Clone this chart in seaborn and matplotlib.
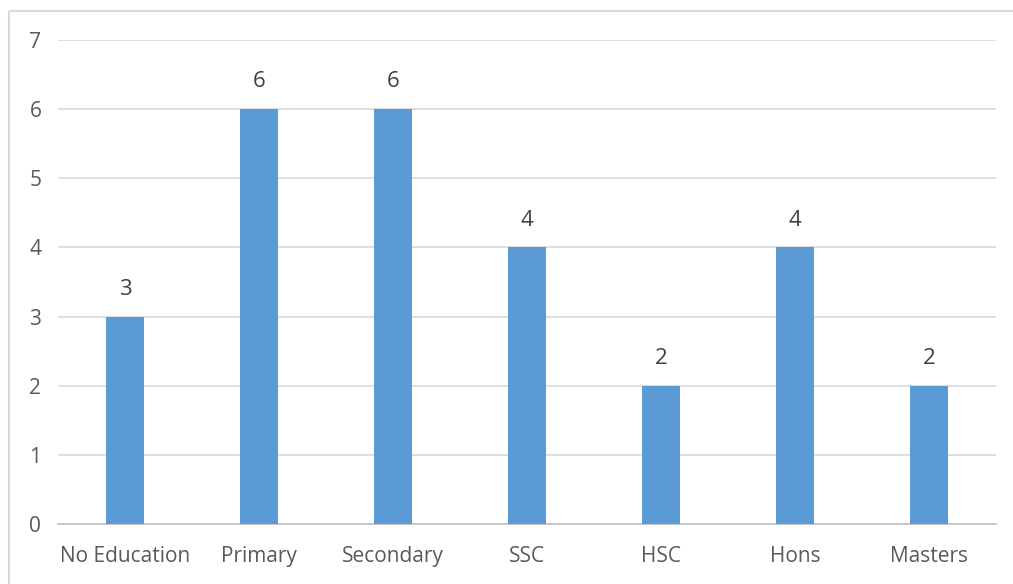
import matplotlib
matplotlib.use("Agg")
import matplotlib.pyplot as plt
import seaborn as sns
import pandas as pd
from matplotlib.lines import Line2D

categories = ["No Education", "Primary", "Secondary", "SSC", "HSC", "Hons", "Masters"]
counts = [3, 6, 6, 4, 2, 4, 2]
y_ticks = [0, 1, 2, 3, 4, 5, 6, 7]

df = pd.DataFrame({"level": categories, "count": counts})

sns.set_theme(style="white")
plt.rcParams["font.family"] = ["Open Sans", "DejaVu Sans"]

fig = plt.figure(figsize=(10.13, 5.84), dpi=100)
fig.patch.set_linewidth(0)
ax = fig.add_axes([58 / 1013, 60 / 584, 938 / 1013, 484 / 584])

sns.barplot(data=df, x="level", y="count", color="#5B9BD5", saturation=1,
            width=0.285, linewidth=0, ax=ax, zorder=3)

ax.set_xlim(-0.5, len(categories) - 0.5)
ax.set_ylim(0, 7)
ax.set_yticks(y_ticks)
ax.yaxis.grid(True, color="#D9D9D9", linewidth=1.2, zorder=0)
ax.xaxis.grid(False)
for side in ["top", "right", "left"]:
    ax.spines[side].set_visible(False)
ax.spines["bottom"].set_color("#BFBFBF")
ax.spines["bottom"].set_linewidth(1.2)
ax.tick_params(axis="both", length=0, labelsize=15, colors="#595959")
ax.tick_params(axis="x", pad=16)
ax.tick_params(axis="y", pad=12)
ax.set_xlabel("")
ax.set_ylabel("")

for container in ax.containers:
    ax.bar_label(container, labels=[str(v) for v in counts], padding=12,
                 fontsize=16, color="#404040")

# chart-area frame: left and top edges only
x0, y0 = 9 / 1013, 1 - 11 / 584
fig.lines.append(Line2D([x0, x0], [0, y0], transform=fig.transFigure,
                        color="#D9D9D9", linewidth=1.5, solid_capstyle="butt"))
fig.lines.append(Line2D([x0, 1.0], [y0, y0], transform=fig.transFigure,
                        color="#D9D9D9", linewidth=1.5, solid_capstyle="butt"))

fig.savefig("out.png", dpi=100)
